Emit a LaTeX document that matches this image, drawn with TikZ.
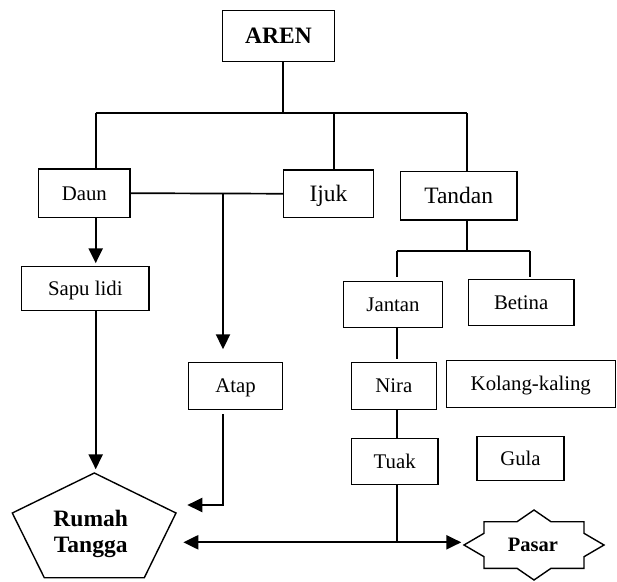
\documentclass[tikz,border=0pt]{standalone}
\usepackage{fontspec}
\setmainfont{Liberation Serif}
\usetikzlibrary{arrows.meta}
\begin{document}
\begin{tikzpicture}[x=1pt,y=-1pt,
  box/.style={draw, line width=1.5pt, inner sep=0pt, text height=13.7pt, text depth=0pt, font=\fontsize{20.8}{24}\selectfont},
  bigtext/.style={font=\fontsize{23.5}{26}\selectfont, text height=15.5pt},
  boldtext/.style={font=\bfseries\fontsize{23.5}{26}\selectfont, text height=15.5pt},
  conn/.style={line width=1.7pt},
  arr/.style={line width=2.3pt, -{Triangle[length=15pt,width=14pt]}},
  darr/.style={line width=2.3pt, {Triangle[length=15pt,width=14pt]}-{Triangle[length=15pt,width=14pt]}},
  shapeline/.style={line width=1.4pt},
]
\useasboundingbox (0,0) rectangle (617,581);

% boxes
\node[box, boldtext, minimum width=112.4pt, minimum height=50.6pt] (aren) at (278.5,36) {AREN};
\node[box, minimum width=91.3pt, minimum height=48.3pt] (daun) at (84.3,193.2) {Daun};
\node[box, bigtext, minimum width=89.6pt, minimum height=47.3pt] (ijuk) at (328.5,193.7) {Ijuk};
\node[box, bigtext, minimum width=116.7pt, minimum height=48.7pt] (tandan) at (458.7,195.7) {Tandan};
\node[box, minimum width=127.3pt, minimum height=44pt] (sapu) at (85.3,288.7) {Sapu lidi};
\node[box, minimum width=94.4pt, minimum height=47pt] (atap) at (235.5,385.8) {Atap};
\node[box, minimum width=99.4pt, minimum height=46pt] (jantan) at (393,304.7) {Jantan};
\node[box, minimum width=105.7pt, minimum height=46pt] (betina) at (521.2,302.7) {Betina};
\node[box, minimum width=85pt, minimum height=47pt] (nira) at (393.8,385.8) {Nira};
\node[box, minimum width=169pt, minimum height=46.6pt] (kolang) at (530.8,384) {Kolang-kaling};
\node[box, minimum width=86.7pt, minimum height=46pt] (tuak) at (394.7,461.3) {Tuak};
\node[box, minimum width=87pt, minimum height=44pt] (gula) at (520.5,458.7) {Gula};

% Rumah Tangga pentagon
\coordinate (rtop) at (94.3,473);
\coordinate (rright) at (176,513);
\coordinate (rbr) at (144.3,577.7);
\coordinate (rbl) at (44.3,577.7);
\coordinate (rleft) at (12.3,513);
\draw[shapeline] (rtop) -- (rright) -- (rbr) -- (rbl) -- (rleft) -- cycle;
\node[font=\bfseries\fontsize{23.5}{26}\selectfont, align=center, inner sep=0pt] (rumah) at (90.7,534) {Rumah\\Tangga};

% Pasar star
\begin{scope}[shift={(534,545)}]
\draw[shapeline] (-70,0) -- (-50,-11.7) -- (-50,-23.3) -- (-17,-23.3) -- (0,-35)
  -- (17,-23.3) -- (50,-23.3) -- (50,-11.7) -- (70,0)
  -- (50,11.7) -- (50,23.3) -- (17,23.3) -- (0,35)
  -- (-17,23.3) -- (-50,23.3) -- (-50,11.7) -- cycle;
\coordinate (pasarL) at (-70,0);
\end{scope}
\node[inner sep=0pt, text height=13.5pt, text depth=0pt, font=\bfseries\fontsize{20.5}{24}\selectfont] (pasar) at (533,545) {Pasar};

% bus from AREN
\coordinate (b1) at (95.7,113);
\coordinate (b2) at (283,113);
\coordinate (b3) at (333.7,113);
\coordinate (b4) at (467,113);
\draw[conn] (aren.south -| b2) -- (b2);
\draw[conn] (b1) -- (b4);
\draw[conn] (b1) -- (daun.north -| b1);
\draw[conn] (b3) -- (ijuk.north -| b3);
\draw[conn] (b4) -- (tandan.north -| b4);

% Daun - Ijuk and Atap
\coordinate (ax) at (223,0);
\draw[conn] (daun.east) -- (ijuk.west);
\draw[arr, shorten >=12.3pt] (daun.east -| ax) -- (atap.north -| ax);
\coordinate (ak) at (223,505);
\coordinate (atip) at (187.3,505);
\draw[arr, shorten <=4pt] (atap.south -| ax) -- (ak) -- (atip);

% Daun -> Sapu lidi -> Rumah Tangga
\draw[arr, shorten >=2.7pt] (daun.south -| b1) -- (sapu.north -| b1);
\draw[arr, shorten >=3.7pt] (sapu.south -| b1) -- (rtop -| b1);

% Tandan branch
\coordinate (sb) at (466.7,251);
\coordinate (sb1) at (397,251);
\coordinate (sb2) at (530.3,251);
\draw[conn] (tandan.south -| sb) -- (sb);
\draw[conn] (sb1) -- (sb2);
\draw[conn, shorten >=4pt] (sb1) -- (jantan.north -| sb1);
\draw[conn, shorten >=2pt] (sb2) -- (betina.north -| sb2);

\coordinate (tx) at (396.7,0);
\draw[conn, shorten >=2.3pt] (jantan.south -| tx) -- (nira.north -| tx);
\draw[conn] (nira.south -| tx) -- (tuak.north -| tx);

% market / household
\coordinate (ltip) at (183.3,542.3);
\draw[darr, shorten >=2.7pt] (ltip) -- (pasarL |- ltip);
\draw[conn] (tuak.south -| tx) -- (ltip -| tx);
\end{tikzpicture}
\end{document}
